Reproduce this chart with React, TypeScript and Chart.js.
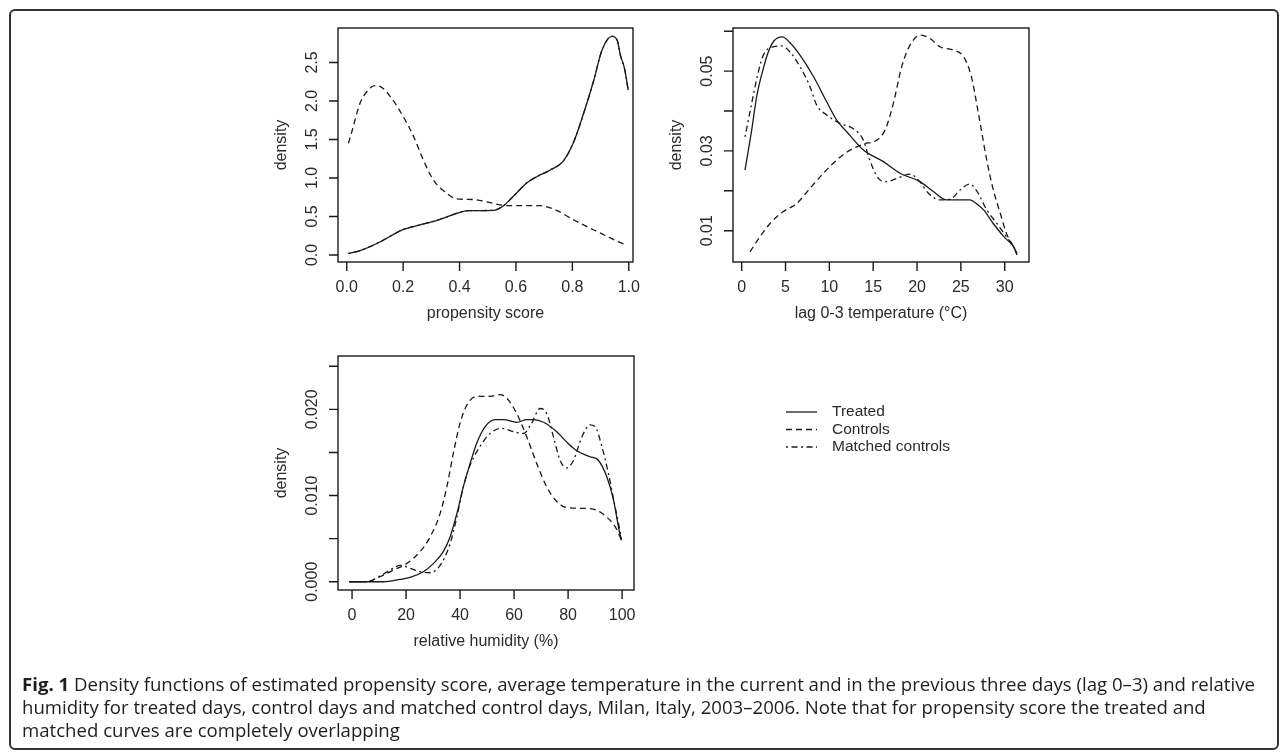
import React, { useEffect, useRef } from "react";
import { Chart, registerables } from "chart.js";

Chart.register(...registerables);

const W = 1287;
const H = 755;

// ---------- data ----------
const seriesNames = ["Treated", "Controls", "Matched controls"];

// panel 1: propensity score
const propTreatedX = [0.006, 0.047, 0.118, 0.2, 0.26, 0.32, 0.39, 0.43, 0.52, 0.556, 0.59, 0.64, 0.675, 0.72, 0.77, 0.805, 0.84, 0.876, 0.905, 0.94, 0.959, 0.97, 0.985, 0.998];
const propTreatedY = [0.02, 0.056, 0.17, 0.33, 0.39, 0.45, 0.54, 0.575, 0.58, 0.64, 0.76, 0.94, 1.02, 1.1, 1.23, 1.47, 1.84, 2.27, 2.66, 2.84, 2.79, 2.6, 2.42, 2.14];
const propControlsX = [0.006, 0.018, 0.047, 0.071, 0.1, 0.118, 0.154, 0.2, 0.237, 0.272, 0.308, 0.355, 0.39, 0.45, 0.497, 0.544, 0.59, 0.686, 0.746, 0.805, 0.876, 0.947, 0.97, 0.995];
const propControlsY = [1.45, 1.6, 1.97, 2.12, 2.2, 2.19, 2.06, 1.8, 1.54, 1.23, 0.97, 0.8, 0.73, 0.72, 0.69, 0.65, 0.64, 0.64, 0.575, 0.455, 0.325, 0.2, 0.16, 0.13];
const propMatchedX = [0.006, 0.047, 0.118, 0.2, 0.26, 0.32, 0.39, 0.43, 0.52, 0.556, 0.59, 0.64, 0.675, 0.72, 0.77, 0.805, 0.84, 0.876, 0.905, 0.94, 0.959, 0.97, 0.985, 0.998];
const propMatchedY = [0.02, 0.056, 0.17, 0.33, 0.39, 0.45, 0.54, 0.575, 0.58, 0.64, 0.76, 0.94, 1.02, 1.1, 1.23, 1.47, 1.84, 2.27, 2.66, 2.84, 2.79, 2.6, 2.42, 2.14];
const propXTicks = [0, 0.2, 0.4, 0.6, 0.8, 1.0];
const propXLabels = ["0.0", "0.2", "0.4", "0.6", "0.8", "1.0"];
const propYTicks = [0, 0.5, 1.0, 1.5, 2.0, 2.5];
const propYLabels = ["0.0", "0.5", "1.0", "1.5", "2.0", "2.5"];

// panel 2: lag 0-3 temperature
const tempTreatedX = [0.38, 1.14, 1.71, 2.47, 3.04, 3.69, 4.64, 5.51, 6.65, 8.17, 9.7, 10.84, 11.98, 13.88, 16.16, 18.06, 20.34, 21.86, 23.38, 26.0, 27.0, 27.6, 28.7, 29.9, 31.0, 31.4];
const tempTreatedY = [0.0252, 0.0352, 0.0436, 0.0507, 0.0548, 0.0576, 0.0586, 0.0571, 0.054, 0.0487, 0.0423, 0.0377, 0.0348, 0.0302, 0.0273, 0.0244, 0.0223, 0.0198, 0.0177, 0.0177, 0.0164, 0.0152, 0.0118, 0.0085, 0.006, 0.0043];
const tempControlsX = [0.95, 2.09, 3.23, 4.75, 6.27, 7.79, 9.32, 10.84, 12.36, 13.88, 15.4, 16.35, 17.3, 18.25, 19.2, 20.34, 21.48, 22.6, 24.1, 25.3, 26.2, 27.0, 27.95, 28.7, 29.5, 30.2, 31.0, 31.4];
const tempControlsY = [0.0047, 0.0085, 0.0118, 0.0148, 0.0168, 0.0206, 0.0244, 0.0277, 0.0302, 0.0317, 0.0327, 0.0352, 0.0419, 0.0511, 0.0565, 0.059, 0.0582, 0.0561, 0.0553, 0.0536, 0.0486, 0.0394, 0.0277, 0.0202, 0.0143, 0.0093, 0.006, 0.0039];
const tempMatchedX = [0.38, 1.14, 1.9, 2.47, 3.61, 4.56, 5.51, 6.65, 7.79, 8.55, 9.7, 11.2, 12.7, 13.88, 14.6, 15.6, 16.5, 17.7, 19.2, 20.3, 21.3, 22.6, 23.8, 24.9, 26.0, 26.8, 27.95, 29.1, 30.2, 31.2, 31.4];
const tempMatchedY = [0.0335, 0.0419, 0.0498, 0.054, 0.0561, 0.0563, 0.0548, 0.0511, 0.0461, 0.0415, 0.039, 0.0369, 0.0356, 0.0327, 0.0277, 0.0231, 0.0223, 0.0231, 0.0242, 0.0223, 0.0194, 0.0177, 0.0179, 0.0202, 0.0217, 0.02, 0.0152, 0.0118, 0.0085, 0.0052, 0.0043];
const tempXTicks = [0, 5, 10, 15, 20, 25, 30];
const tempXLabels = ["0", "5", "10", "15", "20", "25", "30"];
const tempYTicks = [0.01, 0.02, 0.03, 0.04, 0.05, 0.06];
const tempYLabels = ["0.01", "", "0.03", "", "0.05", ""];

// panel 3: relative humidity
const humTreatedX = [-1, 11.6, 17.8, 21.5, 26.4, 30.1, 33.8, 36.3, 38.8, 41.2, 43.7, 46.2, 49.3, 53.0, 56.0, 61.0, 64.7, 67.2, 70.9, 75.8, 79.5, 83.2, 88.1, 91.2, 94.3, 96.8, 99.0, 99.8];
const humTreatedY = [0, 0, 0.00027, 0.0005, 0.00116, 0.0021, 0.0035, 0.0052, 0.0079, 0.011, 0.0137, 0.0161, 0.018, 0.0188, 0.0188, 0.0185, 0.0188, 0.0188, 0.0185, 0.0174, 0.0162, 0.0152, 0.0145, 0.0141, 0.0122, 0.0095, 0.0058, 0.0048];
const humControlsX = [-1, 5.4, 10.4, 15.3, 20.2, 25.2, 28.9, 32.6, 35.1, 37.5, 40.0, 42.5, 46.2, 51.1, 54.8, 57.3, 61.0, 64.7, 68.4, 72.1, 75.8, 79.5, 86.9, 90.6, 94.3, 97.4, 99.8];
const humControlsY = [0, 0, 0.0006, 0.00135, 0.0021, 0.0035, 0.0052, 0.0079, 0.011, 0.0149, 0.0184, 0.0205, 0.0215, 0.0215, 0.0217, 0.0213, 0.0195, 0.0168, 0.0137, 0.011, 0.0093, 0.0086, 0.0085, 0.0083, 0.0075, 0.0064, 0.0048];
const humMatchedX = [-1, 5.4, 10.4, 14.1, 17.8, 21.5, 25.2, 28.9, 32.6, 36.3, 38.8, 41.2, 43.7, 47.4, 51.1, 55.4, 59.8, 63.5, 66.5, 69.6, 72.1, 74.6, 77.0, 79.5, 82.0, 85.1, 88.1, 90.0, 92.5, 94.9, 97.4, 99.8];
const humMatchedY = [0, 0, 0.00066, 0.00135, 0.0019, 0.00155, 0.00116, 0.00104, 0.0019, 0.0044, 0.0075, 0.011, 0.0135, 0.0157, 0.0172, 0.0178, 0.0174, 0.0172, 0.0184, 0.0201, 0.0195, 0.0168, 0.0141, 0.0132, 0.0141, 0.0168, 0.0182, 0.018, 0.0157, 0.0126, 0.0087, 0.005];
const humXTicks = [0, 20, 40, 60, 80, 100];
const humXLabels = ["0", "20", "40", "60", "80", "100"];
const humYTicks = [0, 0.005, 0.01, 0.015, 0.02, 0.025];
const humYLabels = ["0.000", "", "0.010", "", "0.020", ""];

const captionLines = [
  "Density functions of estimated propensity score, average temperature in the current and in the previous three days (lag 0–3) and relative",
  "humidity for treated days, control days and matched control days, Milan, Italy, 2003–2006. Note that for propensity score the treated and",
  "matched curves are completely overlapping",
];

// ---------- styling ----------
const INK = "#1a1a1a";
const TEXT = "#2a2a2a";
const AXIS_FONT = '16px "Liberation Sans", Arial, sans-serif';
const LEGEND_FONT = '15.5px "Liberation Sans", Arial, sans-serif';
const DASHES: number[][] = [[], [6, 4], [2, 3.5, 6, 3.5]];
const TICK = 9;

const pts = (xs: number[], ys: number[]) => xs.map((x, i) => ({ x, y: ys[i] }));

const rAxesPlugin = {
  id: "rAxes",
  afterDraw(chart: any, _args: any, opts: any) {
    const ctx = chart.ctx;
    const a = chart.chartArea;
    const xs = chart.scales.x;
    const ys = chart.scales.y;
    ctx.save();
    ctx.strokeStyle = INK;
    ctx.lineWidth = 1.4;
    ctx.setLineDash([]);
    ctx.strokeRect(a.left, a.top, a.right - a.left, a.bottom - a.top);
    ctx.beginPath();
    opts.xTicks.forEach((v: number) => {
      const px = xs.getPixelForValue(v);
      ctx.moveTo(px, a.bottom);
      ctx.lineTo(px, a.bottom + TICK);
    });
    opts.yTicks.forEach((v: number) => {
      const py = ys.getPixelForValue(v);
      ctx.moveTo(a.left, py);
      ctx.lineTo(a.left - TICK, py);
    });
    ctx.stroke();

    ctx.fillStyle = TEXT;
    ctx.font = AXIS_FONT;
    ctx.textAlign = "center";
    ctx.textBaseline = "middle";
    opts.xTicks.forEach((v: number, i: number) => {
      const lab = opts.xLabels[i];
      if (lab) ctx.fillText(lab, xs.getPixelForValue(v), a.bottom + 26);
    });
    ctx.fillText(opts.xTitle, (a.left + a.right) / 2, a.bottom + 52);

    opts.yTicks.forEach((v: number, i: number) => {
      const lab = opts.yLabels[i];
      if (!lab) return;
      ctx.save();
      ctx.translate(a.left - 25, ys.getPixelForValue(v));
      ctx.rotate(-Math.PI / 2);
      ctx.fillText(lab, 0, 0);
      ctx.restore();
    });
    ctx.save();
    ctx.translate(a.left - 56, (a.top + a.bottom) / 2);
    ctx.rotate(-Math.PI / 2);
    ctx.fillText(opts.yTitle, 0, 0);
    ctx.restore();

    if (opts.legend) {
      const lg = opts.legend;
      ctx.font = LEGEND_FONT;
      ctx.textAlign = "left";
      chart.data.datasets.forEach((ds: any, i: number) => {
        const y = lg.y + i * lg.gap;
        ctx.beginPath();
        ctx.setLineDash(ds.borderDash || []);
        ctx.lineWidth = 1.3;
        ctx.moveTo(lg.x, y);
        ctx.lineTo(lg.x + 31, y);
        ctx.stroke();
        ctx.setLineDash([]);
        ctx.fillText(ds.label, lg.x + 46, y);
      });
    }
    ctx.restore();
  },
};

type PanelSpec = {
  box: { l: number; t: number; r: number; b: number };
  xMin: number; xMax: number; yMin: number; yMax: number;
  series: { x: number[]; y: number[] }[];
  xTicks: number[]; xLabels: string[]; yTicks: number[]; yLabels: string[];
  xTitle: string; yTitle: string;
  legend?: { x: number; y: number; gap: number };
};

function Panel({ spec }: { spec: PanelSpec }) {
  const ref = useRef<HTMLCanvasElement | null>(null);
  useEffect(() => {
    if (!ref.current) return;
    const { box } = spec;
    const chart = new Chart(ref.current, {
      type: "scatter",
      data: {
        datasets: spec.series.map((s, i) => ({
          label: seriesNames[i],
          data: pts(s.x, s.y),
          showLine: true,
          borderColor: INK,
          borderWidth: 1.3,
          borderDash: DASHES[i],
          pointRadius: 0,
          fill: false,
          cubicInterpolationMode: "monotone" as const,
        })),
      },
      options: {
        animation: false,
        responsive: false,
        maintainAspectRatio: false,
        events: [],
        layout: { padding: { left: box.l, top: box.t, right: W - box.r, bottom: H - box.b } },
        scales: {
          x: { type: "linear", min: spec.xMin, max: spec.xMax, display: false },
          y: { type: "linear", min: spec.yMin, max: spec.yMax, display: false },
        },
        plugins: {
          legend: { display: false },
          tooltip: { enabled: false },
          // @ts-ignore
          rAxes: {
            xTicks: spec.xTicks, xLabels: spec.xLabels,
            yTicks: spec.yTicks, yLabels: spec.yLabels,
            xTitle: spec.xTitle, yTitle: spec.yTitle,
            legend: spec.legend,
          },
        },
      } as any,
      plugins: [rAxesPlugin],
    });
    return () => chart.destroy();
  }, [spec]);
  return (
    <canvas
      ref={ref}
      width={W}
      height={H}
      style={{ position: "absolute", left: 0, top: 0, width: W, height: H }}
    />
  );
}

const panels: PanelSpec[] = [
  {
    box: { l: 338, t: 28, r: 633, b: 262 },
    xMin: -0.031, xMax: 1.015, yMin: -0.091, yMax: 2.948,
    series: [
      { x: propTreatedX, y: propTreatedY },
      { x: propControlsX, y: propControlsY },
      { x: propMatchedX, y: propMatchedY },
    ],
    xTicks: propXTicks, xLabels: propXLabels, yTicks: propYTicks, yLabels: propYLabels,
    xTitle: "propensity score", yTitle: "density",
  },
  {
    box: { l: 733, t: 28, r: 1029, b: 262 },
    xMin: -0.99, xMax: 32.77, yMin: 0.00215, yMax: 0.0608,
    series: [
      { x: tempTreatedX, y: tempTreatedY },
      { x: tempControlsX, y: tempControlsY },
      { x: tempMatchedX, y: tempMatchedY },
    ],
    xTicks: tempXTicks, xLabels: tempXLabels, yTicks: tempYTicks, yLabels: tempYLabels,
    xTitle: "lag 0-3 temperature (°C)", yTitle: "density",
  },
  {
    box: { l: 338, t: 356, r: 634, b: 590 },
    xMin: -5.2, xMax: 104.4, yMin: -0.00096, yMax: 0.02619,
    series: [
      { x: humTreatedX, y: humTreatedY },
      { x: humControlsX, y: humControlsY },
      { x: humMatchedX, y: humMatchedY },
    ],
    xTicks: humXTicks, xLabels: humXLabels, yTicks: humYTicks, yLabels: humYLabels,
    xTitle: "relative humidity (%)", yTitle: "density",
    legend: { x: 786, y: 412, gap: 17.5 },
  },
];

export default function App() {
  return (
    <div
      style={{
        position: "absolute",
        left: 0,
        top: 0,
        width: W,
        height: H,
        background: "#fff",
        overflow: "hidden",
      }}
    >
      <div
        style={{
          position: "absolute",
          left: 9,
          top: 9,
          width: 1270,
          height: 741,
          border: "2px solid #333",
          borderRadius: 6,
          boxSizing: "border-box",
        }}
      />
      {panels.map((p, i) => (
        <Panel key={i} spec={p} />
      ))}
      <div
        style={{
          position: "absolute",
          left: 22,
          top: 672,
          font: '18.6px "Open Sans", "Noto Sans", sans-serif',
          lineHeight: "23px",
          color: "#1e1e1e",
          whiteSpace: "nowrap",
        }}
      >
        <div>
          <span style={{ fontWeight: 700 }}>Fig. 1</span> {captionLines[0]}
        </div>
        <div>{captionLines[1]}</div>
        <div>{captionLines[2]}</div>
      </div>
    </div>
  );
}
